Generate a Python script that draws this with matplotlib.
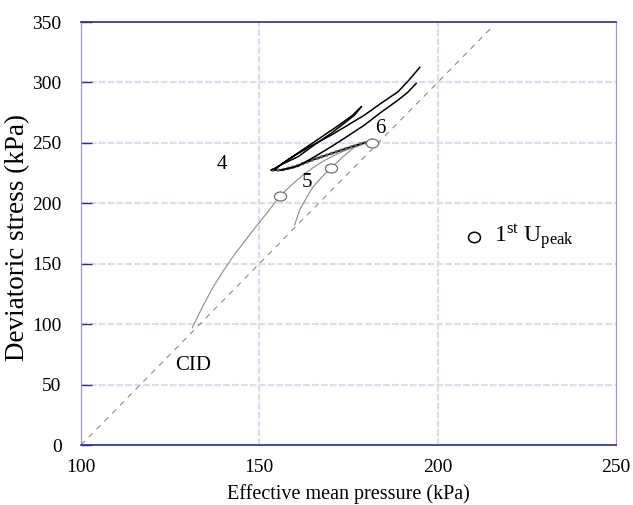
import matplotlib
matplotlib.use("Agg")
import matplotlib.pyplot as plt
from matplotlib.markers import MarkerStyle
from matplotlib.transforms import Affine2D

plt.rcParams['font.family'] = ['Liberation Serif', 'DejaVu Serif']
plt.rcParams['mathtext.fontset'] = 'custom'
plt.rcParams['mathtext.rm'] = 'Liberation Serif'
plt.rcParams['mathtext.it'] = 'Liberation Serif'

# CID reference line
cid_p = [100, 215]
cid_q = [0, 345]

# Test 4 (gray)
p4 = [131.2, 134.0, 137.0, 140.0, 143.0, 146.0, 149.0, 152.0, 155.9, 159.0, 162.3, 165.2, 168.0, 170.8, 173.5, 176.0, 178.2]
q4 = [97.0, 114.0, 130.5, 144.5, 157.5, 169.0, 180.5, 191.5, 206.3, 215.1, 223.5, 229.8, 235.0, 239.3, 243.0, 246.0, 248.0]

# Test 5 (gray)
p5 = [159.9, 161.3, 163.2, 165.1, 167.6, 170.2, 173.5, 176.3, 178.2]
q5 = [182.0, 194.4, 204.5, 213.7, 222.0, 229.5, 238.6, 245.5, 248.5]

# Test 6 (gray start to first peak)
p6 = [178.2, 180.0, 181.6]
q6 = [248.5, 249.6, 250.1]

# Peak markers (1st U_peak)
peak_p = [155.9, 170.2, 181.6]
peak_q = [206.3, 229.5, 250.1]

# Cyclic loops (black)
loop_low_p = [181.6, 179.5, 175.0, 170.0, 165.0, 159.9, 156.2, 153.4]
loop_low_q = [250.1, 250.1, 246.0, 241.0, 236.0, 230.3, 227.5, 227.5]
loop1_p = [153.4, 156.5, 160.9, 165.5, 170.2, 173.5, 176.7, 178.6]
loop1_q = [227.5, 232.5, 238.6, 248.5, 258.0, 265.5, 273.0, 279.9]
loop2_p = [178.6, 176.0, 172.0, 167.0, 162.0, 157.5, 154.2,
           157.0, 160.9, 165.5, 170.2, 175.0, 179.5, 184.0, 188.9, 192.0, 195.0]
loop2_q = [279.9, 272.5, 264.0, 254.0, 244.0, 235.0, 228.0,
           234.0, 241.3, 249.0, 256.5, 265.0, 273.0, 282.5, 292.3, 302.0, 312.5]
loop3_p = [156.2, 158.5, 160.9, 165.5, 170.2, 175.0, 179.5, 184.0, 188.9, 191.5, 194.0]
loop3_q = [227.5, 229.0, 230.8, 238.5, 246.9, 256.0, 264.8, 275.0, 285.4, 291.5, 299.2]

labels = [("4", 139.5, 231.7), ("5", 163.3, 217.6), ("6", 184.0, 262.3), ("CID", 131.4, 66.2)]

fig = plt.figure(figsize=(6.33, 5.05), dpi=100)
ax = fig.add_axes([0.128, 0.1188, 0.845, 0.8376])

ax.set_xlim(100, 250)
ax.set_ylim(0, 350)
ax.set_xticks([100, 150, 200, 250])
ax.set_yticks([0, 50, 100, 150, 200, 250, 300, 350])

grid_c = '#dcdcf0'
for y in [50, 100, 150, 200, 250, 300]:
    ax.axhline(y, color=grid_c, lw=1.6, ls=(0, (3, 1)), zorder=0)
for x in [150, 200]:
    ax.axvline(x, color=grid_c, lw=1.6, ls=(0, (3, 1)), zorder=0)

ax.plot(cid_p, cid_q, color='#8a8a8a', lw=0.8, ls=(0, (5, 5)))
ax.plot(p4, q4, color='#8a8a8a', lw=0.8)
ax.plot(p5, q5, color='#8a8a8a', lw=0.8)
ax.plot(p6, q6, color='#8a8a8a', lw=0.8)

ax.plot(loop_low_p, loop_low_q, color='black', lw=1.3)
ax.plot(loop_low_p, loop_low_q, color='#666666', lw=2.3, ls=(0, (0.8, 0.8)))
ax.plot(loop1_p, loop1_q, color='black', lw=1.1)
ax.plot(loop2_p, loop2_q, color='black', lw=1.1)
ax.plot(loop3_p, loop3_q, color='black', lw=1.1)

mk = MarkerStyle('o', transform=Affine2D().scale(1.35, 1.0))
ax.plot(peak_p, peak_q, ls='none', marker=mk, ms=6.5, mfc='white', mec='#707070', mew=0.9, zorder=5)

# legend-like annotation
ax.plot([210.1], [172.0], ls='none', marker=MarkerStyle('o', transform=Affine2D().scale(1.15, 1.0)),
        ms=7.5, mfc='white', mec='black', mew=1.1)
ax.text(215.8, 172.0, r'1$^{\mathrm{st}}$ U$_{\mathrm{peak}}$', fontsize=17, va='center', ha='left')

for t, x, y in labels:
    ax.text(x, y, t, fontsize=15, ha='center', va='center')

for s in ['top', 'bottom']:
    ax.spines[s].set_color('#2a2aa0')
    ax.spines[s].set_linewidth(1.2)
for s in ['left', 'right']:
    ax.spines[s].set_color('#9a9ad6')
    ax.spines[s].set_linewidth(0.9)

ax.tick_params(axis='y', direction='in', length=8, color='#2a2aa0', width=1.0, labelsize=14, pad=14)
ax.tick_params(axis='x', length=0, labelsize=14, pad=10)

ax.set_xlabel('Effective mean pressure (kPa)', fontsize=14.5, labelpad=6)
ax.set_ylabel('Deviatoric stress (kPa)', fontsize=19.5)
ax.yaxis.set_label_coords(-0.096, 0.49)

fig.savefig('out.png', dpi=100)
